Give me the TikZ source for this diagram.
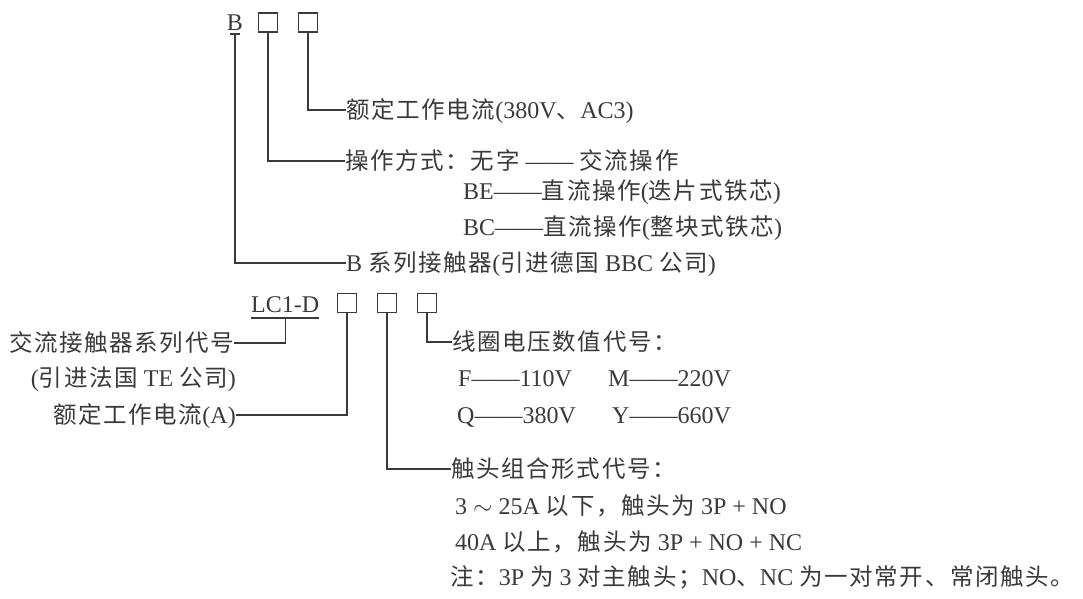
\documentclass[tikz,border=0pt]{standalone}
\usepackage{fontspec}
\setmainfont{Liberation Serif}
\newfontfamily\zhfont[LetterSpace=7]{Noto Sans CJK SC}
\newcommand\zh[1]{{\zhfont\fontsize{23.5}{27}\selectfont #1}}
\newcommand\zhdash{——}
\definecolor{ink}{HTML}{3A3A3A}
\begin{document}
\begin{tikzpicture}[x=1pt,y=-1pt,
  lbl/.style={inner sep=0pt, text height=19pt, text depth=3pt, font=\fontsize{24}{28}\selectfont, text=ink},
  box/.style={draw=ink, line width=1.1pt, minimum size=19pt, inner sep=0pt},
  con/.style={draw=ink, line width=1.1pt}]
\useasboundingbox[fill=white] (0,0) rectangle (1083,598);
% top code B [] []
\node[lbl, anchor=base] (B) at (235,30) {B};
\node[box] (b1) at (268,22.5) {};
\node[box] (b2) at (308,22.5) {};
\coordinate (Bm) at ([yshift=-4pt]B.base);
\node[lbl, anchor=west] (t1) at (346,110) {\zh{额定工作电流}(380V\zh{、}AC3)};
\node[lbl, anchor=west] (t2) at (345,161) {\zh{操作方式：无字} \zhdash{} \zh{交流操作}};
\node[lbl, anchor=west] (t3) at (463,191) {BE\zhdash\zh{直流操作}(\zh{迭片式铁芯})};
\node[lbl, anchor=west] (t4) at (463,227) {BC\zhdash\zh{直流操作}(\zh{整块式铁芯})};
\node[lbl, anchor=west] (t5) at (346,263) {B \zh{系列接触器}(\zh{引进德国} BBC \zh{公司})};
\draw[con] ([xshift=-5pt]Bm) -- ([xshift=5pt]Bm);
\draw[con] (Bm) |- (t5.west);
\draw[con] (b1.south) |- (t2.west);
\draw[con] (b2.south) |- (t1.west);
% LC1-D code
\node[lbl, anchor=base west] (LC) at (251,312) {LC1-D};
\node[box] (ba) at (347,303) {};
\node[box] (bb) at (387,303) {};
\node[box] (bc) at (427,303) {};
\coordinate (LCl) at ([yshift=-6pt]LC.base west);
\coordinate (LCr) at ([yshift=-6pt]LC.base east);
\coordinate (LCm) at ([yshift=-6pt]LC.base);
\node[lbl, anchor=east] (t6) at (234,343) {\zh{交流接触器系列代号}};
\node[lbl, anchor=east] (t7) at (236,378) {(\zh{引进法国} TE \zh{公司})};
\node[lbl, anchor=east] (t8) at (236,415) {\zh{额定工作电流}(A)};
\node[lbl, anchor=west] (t9) at (452,342) {\zh{线圈电压数值代号：}};
\node[lbl, anchor=west] (tF) at (458,378) {F\zhdash 110V};
\node[lbl, anchor=west] (tM) at (608,378) {M\zhdash 220V};
\node[lbl, anchor=west] (tQ) at (457,415) {Q\zhdash 380V};
\node[lbl, anchor=west] (tY) at (612,415) {Y\zhdash 660V};
\node[lbl, anchor=west] (t11) at (451,469) {\zh{触头组合形式代号：}};
\node[lbl, anchor=west] (t12) at (455,506) {3 $\sim$ 25A \zh{以下，触头为} 3P + NO};
\node[lbl, anchor=west] (t13) at (455,542) {40A \zh{以上，触头为} 3P + NO + NC};
\node[lbl, anchor=west] (t14) at (450,577) {\zh{注：}3P \zh{为} 3 \zh{对主触头；}NO\zh{、}NC \zh{为一对常开、常闭触头。}};
\draw[con] (LCl) -- (LCr);
\draw[con] (LCm) |- (t6.east);
\draw[con] (ba.south) |- (t8.east);
\draw[con] (bb.south) |- (t11.west);
\draw[con] (bc.south) |- (t9.west);
\end{tikzpicture}
\end{document}
